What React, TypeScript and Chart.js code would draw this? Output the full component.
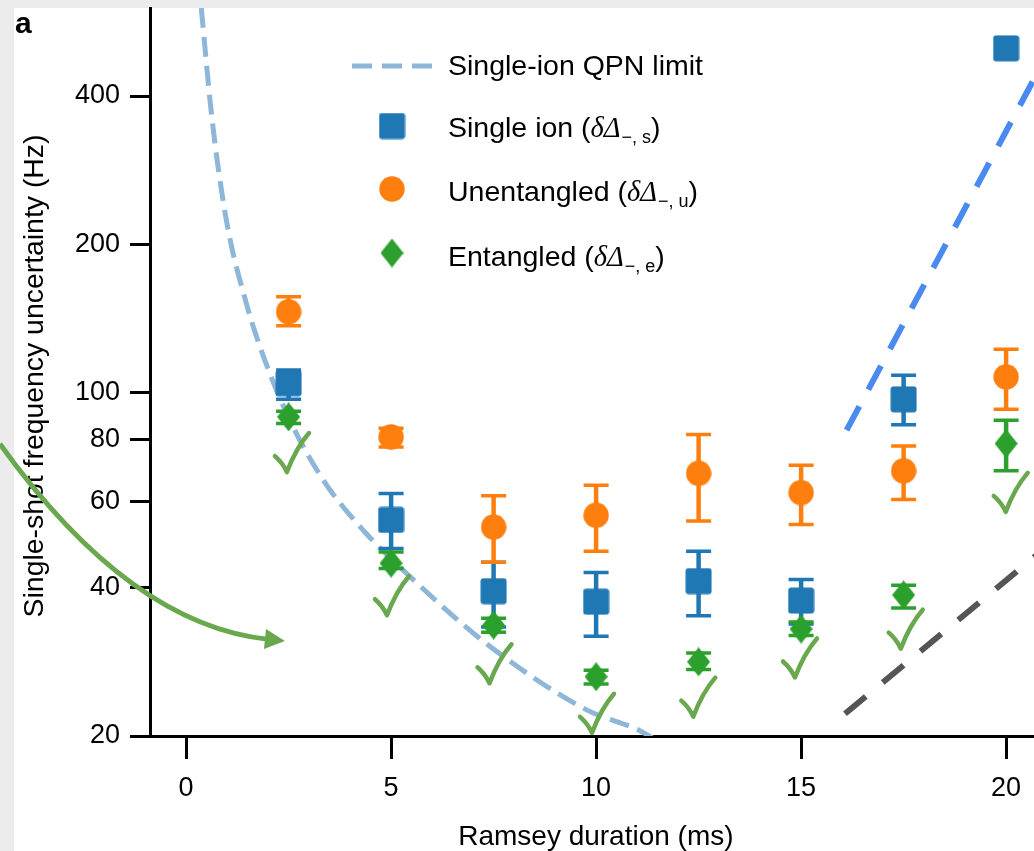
import React, { useEffect, useRef } from "react";
import { Chart, registerables } from "chart.js";
Chart.register(...registerables);

// ---------- data ----------
const ramseyMs = [2.5, 5, 7.5, 10, 12.5, 15, 17.5, 20];

const singleIon = [104.3, 55.0, 39.4, 37.5, 41.3, 37.7, 96.7, 500];
const singleIonLo = [96.8, 48.1, 33.3, 31.9, 35.1, 33.8, 85.9, 500];
const singleIonHi = [110.9, 62.2, 45.1, 43.0, 47.5, 41.6, 108.3, 500];

const unentangled = [145.7, 81.1, 53.2, 56.2, 68.4, 62.5, 69.2, 107.4];
const unentangledLo = [136.4, 77.4, 45.1, 47.5, 54.7, 53.8, 60.5, 92.3];
const unentangledHi = [156.3, 84.5, 61.6, 64.7, 82.0, 71.0, 77.7, 122.2];

const entangled = [89.1, 44.9, 33.6, 26.4, 28.3, 33.0, 38.7, 78.6];
const entangledLo = [86.4, 43.8, 32.5, 25.5, 27.3, 32.0, 36.4, 69.2];
const entangledHi = [91.5, 47.3, 34.7, 27.2, 29.5, 34.1, 40.5, 87.7];

const qpnX = [0.37, 0.63, 0.99, 1.48, 1.89, 2.55, 3.35, 4.32, 5.38, 7.33, 9.77, 11.07, 11.5];
const qpnY = [604, 361, 222, 150.5, 118, 87, 66.2, 52.4, 42.8, 30.8, 22.6, 20.5, 19.5];

const xTicks = [0, 5, 10, 15, 20];
const yTicks = [20, 40, 60, 80, 100, 200, 400];

// hand-drawn annotations (data coordinates)
const checkX = [2.46, 4.9, 7.4, 9.9, 12.37, 14.85, 17.43, 19.99];
const checkY = [68.8, 35.2, 25.6, 20.3, 21.9, 26.3, 30.1, 57.1];
const blueGuideX = [16.11, 21.0];
const blueGuideY = [83.7, 486];
const grayGuideX = [16.07, 21.0];
const grayGuideY = [22.2, 48.6];
const arrowX = [-4.54, -1.37, 2.41];
const arrowY = [78.5, 33.6, 31.2];

const legendLabels = ["Single-ion QPN limit", "Single ion (", "Unentangled (", "Entangled ("];
const legendSubs = ["", "s", "u", "e"];

// ---------- styles ----------
const FAMILY = '"Liberation Sans", Arial, Helvetica, sans-serif';
const BLUE = "#1f77b4";
const ORANGE = "#ff7f0e";
const GREEN = "#2ca02c";
const QPN = "#8db6d8";
const CHECK = "#6aa84f";

function makeMarker(kind: string, color: string) {
  const c = document.createElement("canvas");
  let w = 27, h = 27;
  if (kind === "circle") { w = 26; h = 26; }
  if (kind === "diamond") { w = 23; h = 29; }
  c.width = w; c.height = h;
  const g = c.getContext("2d")!;
  g.fillStyle = color;
  g.beginPath();
  if (kind === "square") {
    (g as any).roundRect(0.5, 0.5, w - 1, h - 1, 3);
  } else if (kind === "circle") {
    g.arc(w / 2, h / 2, w / 2 - 0.3, 0, Math.PI * 2);
  } else {
    g.moveTo(w / 2, 0); g.lineTo(w, h / 2); g.lineTo(w / 2, h); g.lineTo(0, h / 2); g.closePath();
  }
  g.fill();
  return c;
}

const pts = (xs: number[], ys: number[]) => xs.map((x, i) => ({ x, y: ys[i] }));

export default function App() {
  const ref = useRef<HTMLCanvasElement>(null);

  useEffect(() => {
    const canvas = ref.current!;
    const sq = makeMarker("square", BLUE);
    const ci = makeMarker("circle", ORANGE);
    const di = makeMarker("diamond", GREEN);

    const errors: Record<number, { lo: number[]; hi: number[]; color: string }> = {
      0: { lo: singleIonLo, hi: singleIonHi, color: BLUE },
      1: { lo: unentangledLo, hi: unentangledHi, color: ORANGE },
      2: { lo: entangledLo, hi: entangledHi, color: GREEN },
    };

    const errorBarPlugin = {
      id: "errorBars",
      beforeDatasetDraw(chart: any, args: any) {
        const e = errors[args.index];
        if (!e) return;
        const { ctx, scales } = chart;
        const x = scales.x, y = scales.y;
        ctx.save();
        ctx.strokeStyle = e.color;
        ramseyMs.forEach((v, i) => {
          const px = x.getPixelForValue(v);
          const yl = y.getPixelForValue(e.lo[i]);
          const yh = y.getPixelForValue(e.hi[i]);
          if (Math.abs(yl - yh) < 1) return;
          ctx.lineWidth = 4.5;
          ctx.beginPath(); ctx.moveTo(px, yl); ctx.lineTo(px, yh); ctx.stroke();
          ctx.lineWidth = 3.5;
          ctx.beginPath();
          ctx.moveTo(px - 12.5, yl); ctx.lineTo(px + 12.5, yl);
          ctx.moveTo(px - 12.5, yh); ctx.lineTo(px + 12.5, yh);
          ctx.stroke();
        });
        ctx.restore();
      },
    };

    const backgroundPlugin = {
      id: "bg",
      beforeDraw(chart: any) {
        const { ctx, width, height } = chart;
        ctx.save();
        ctx.fillStyle = "#ececec";
        ctx.fillRect(0, 0, width, height);
        ctx.fillStyle = "#ffffff";
        ctx.fillRect(14, 8, width - 14, height - 8);
        ctx.restore();
      },
    };

    const richLabel = (ctx: CanvasRenderingContext2D, prefix: string, sub: string, x: number, y: number) => {
      const main = `28.5px ${FAMILY}`;
      ctx.font = main;
      ctx.fillText(prefix, x, y);
      x += ctx.measureText(prefix).width;
      ctx.font = `italic 28.5px "Liberation Serif", "DejaVu Serif", serif`;
      ctx.fillText("δΔ", x, y);
      x += ctx.measureText("δΔ").width + 1;
      ctx.font = `18px ${FAMILY}`;
      const s = "\u2212, " + sub;
      ctx.fillText(s, x, y + 6);
      x += ctx.measureText(s).width;
      ctx.font = main;
      ctx.fillText(")", x, y);
    };

    const overlayPlugin = {
      id: "overlay",
      afterDraw(chart: any) {
        const { ctx, scales } = chart;
        const x = scales.x, y = scales.y;
        ctx.save();
        // panel letter
        ctx.fillStyle = "#000";
        ctx.font = `bold 30px ${FAMILY}`;
        ctx.textBaseline = "alphabetic";
        ctx.fillText("a", 15, 33);

        // legend
        ctx.strokeStyle = QPN; ctx.lineWidth = 5; ctx.setLineDash([20, 10]);
        ctx.beginPath(); ctx.moveTo(352, 66); ctx.lineTo(432, 66); ctx.stroke();
        ctx.setLineDash([]);
        ctx.drawImage(sq, 392 - sq.width / 2, 126 - sq.height / 2);
        ctx.drawImage(ci, 392 - ci.width / 2, 189 - ci.height / 2);
        ctx.drawImage(di, 392 - di.width / 2, 253 - di.height / 2);
        ctx.fillStyle = "#000";
        ctx.font = `28.5px ${FAMILY}`;
        ctx.fillText(legendLabels[0], 448, 75);
        richLabel(ctx, legendLabels[1], legendSubs[1], 448, 137);
        richLabel(ctx, legendLabels[2], legendSubs[2], 448, 201);
        richLabel(ctx, legendLabels[3], legendSubs[3], 448, 266);

        // check marks
        ctx.strokeStyle = CHECK; ctx.lineWidth = 4.5; ctx.lineCap = "round"; ctx.lineJoin = "round";
        checkX.forEach((cx, i) => {
          const bx = x.getPixelForValue(cx);
          const by = y.getPixelForValue(checkY[i]);
          ctx.beginPath();
          ctx.moveTo(bx - 12, by - 16);
          ctx.quadraticCurveTo(bx - 4, by - 9, bx, by);
          ctx.quadraticCurveTo(bx + 9, by - 24, bx + 22, by - 39);
          ctx.stroke();
        });

        // curved arrow
        const ax = arrowX.map((v) => x.getPixelForValue(v));
        const ay = arrowY.map((v) => y.getPixelForValue(v));
        ctx.lineWidth = 5; ctx.lineCap = "butt";
        ctx.beginPath();
        ctx.moveTo(ax[0], ay[0]);
        const ang = Math.atan2(ay[2] - ay[1], ax[2] - ax[1]);
        const ex = ax[2] - Math.cos(ang) * 16, ey = ay[2] - Math.sin(ang) * 16;
        ctx.quadraticCurveTo(ax[1], ay[1], ex, ey);
        ctx.stroke();
        ctx.fillStyle = CHECK;
        ctx.beginPath();
        ctx.moveTo(ax[2], ay[2]);
        ctx.lineTo(ax[2] - Math.cos(ang) * 20 - Math.sin(ang) * 10, ay[2] - Math.sin(ang) * 20 + Math.cos(ang) * 10);
        ctx.lineTo(ax[2] - Math.cos(ang) * 20 + Math.sin(ang) * 10, ay[2] - Math.sin(ang) * 20 - Math.cos(ang) * 10);
        ctx.closePath();
        ctx.fill();
        ctx.restore();
      },
    };

    const chart = new Chart(canvas, {
      type: "scatter",
      data: {
        datasets: [
          { label: "Single ion", data: pts(ramseyMs, singleIon), pointStyle: sq as any, pointRadius: 13, pointHoverRadius: 13, backgroundColor: BLUE, borderColor: BLUE, order: 3 },
          { label: "Unentangled", data: pts(ramseyMs, unentangled), pointStyle: ci as any, pointRadius: 13, pointHoverRadius: 13, backgroundColor: ORANGE, borderColor: ORANGE, order: 2 },
          { label: "Entangled", data: pts(ramseyMs, entangled), pointStyle: di as any, pointRadius: 13, pointHoverRadius: 13, backgroundColor: GREEN, borderColor: GREEN, order: 1 },
          { label: "Single-ion QPN limit", data: pts(qpnX, qpnY), showLine: true, borderColor: QPN, borderWidth: 5, borderDash: [20, 9], pointRadius: 0, cubicInterpolationMode: "monotone", order: 5 } as any,
          { label: "guide blue", data: pts(blueGuideX, blueGuideY), showLine: true, borderColor: "#4a8af0", borderWidth: 6, borderDash: [27, 19], pointRadius: 0, order: 0 },
          { label: "guide gray", data: pts(grayGuideX, grayGuideY), showLine: true, borderColor: "#555555", borderWidth: 6, borderDash: [27, 22], pointRadius: 0, order: 0 },
        ],
      },
      options: {
        animation: false,
        responsive: false,
        events: [],
        layout: { autoPadding: false, padding: { top: 8, left: 0, right: 0, bottom: 0 } },
        plugins: { legend: { display: false }, tooltip: { enabled: false } },
        scales: {
          x: {
            type: "linear",
            min: -0.88,
            max: 20.68,
            border: { color: "#000", width: 3 },
            grid: { drawOnChartArea: false, drawTicks: true, tickLength: 23, tickWidth: 3, tickColor: "#000" },
            ticks: { font: { size: 27, family: FAMILY }, color: "#000", padding: 13, callback: (v: any) => String(v) },
            afterBuildTicks: (s: any) => { s.ticks = xTicks.map((v) => ({ value: v })); },
            afterFit: (s: any) => { s.height = 115; s.paddingLeft = 0; s.paddingRight = 0; s.paddingTop = 0; s.paddingBottom = 0; },
            title: { display: true, text: " Ramsey duration (ms)", color: "#000", font: { size: 28, family: FAMILY, lineHeight: 1 }, padding: { top: 0, bottom: 0 } },
          },
          y: {
            type: "logarithmic",
            min: 20,
            max: 604,
            border: { color: "#000", width: 3 },
            grid: { drawOnChartArea: false, drawTicks: true, tickLength: 20, tickWidth: 3, tickColor: "#000" },
            ticks: { font: { size: 27, family: FAMILY }, color: "#000", padding: 10, callback: (v: any) => String(v) },
            afterBuildTicks: (s: any) => { s.ticks = yTicks.map((v) => ({ value: v })); },
            afterFit: (s: any) => { s.width = 150; s.paddingLeft = 0; s.paddingRight = 0; s.paddingTop = 0; s.paddingBottom = 0; },
            title: { display: true, text: "Single-shot frequency uncertainty (Hz) ", color: "#000", font: { size: 28.4, family: FAMILY, lineHeight: 1 }, padding: { top: 21, bottom: 0 } },
          },
        },
      } as any,
      plugins: [backgroundPlugin, errorBarPlugin, overlayPlugin],
    });
    return () => chart.destroy();
  }, []);

  return (
    <div style={{ position: "fixed", left: 0, top: 0, width: 1034, height: 851 }}>
      <canvas ref={ref} width={1034} height={851} style={{ display: "block", width: 1034, height: 851 }} />
    </div>
  );
}
